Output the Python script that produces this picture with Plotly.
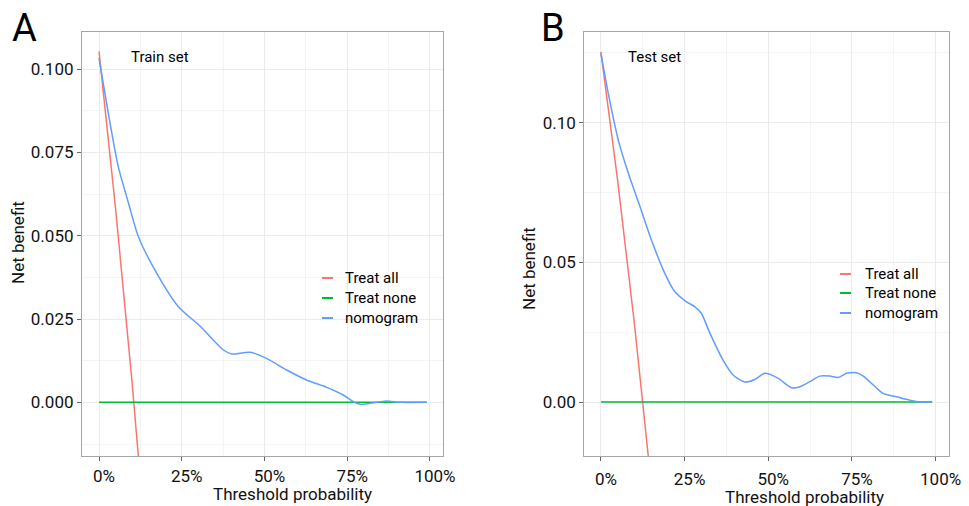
import plotly.graph_objects as go

# ---------------- data ----------------
# Train set (panel A)
train_thr = [0.0, 0.028, 0.058, 0.089, 0.119, 0.169, 0.240, 0.305, 0.345, 0.376, 0.401,
             0.456, 0.506, 0.567, 0.627, 0.688, 0.738, 0.768, 0.789, 0.819, 0.869, 0.909, 0.99]
train_nomogram = [0.1033, 0.0868, 0.0708, 0.0598, 0.0497, 0.0397, 0.0287, 0.0229, 0.0187, 0.0157, 0.0145,
                  0.0150, 0.0132, 0.0097, 0.0067, 0.0045, 0.0022, 0.0002, -0.0006, -0.0003, 0.0004, 0.0, 0.0]
train_all_thr = [0.0, 0.05, 0.10, 0.15]
train_all = [0.1053, 0.0582, 0.0059, -0.0526]
train_none_thr = [0.0, 0.99]
train_none = [0.0, 0.0]

# Test set (panel B)
test_thr = [0.0, 0.022, 0.052, 0.082, 0.117, 0.151, 0.191, 0.221, 0.256, 0.281, 0.300, 0.326,
            0.365, 0.395, 0.430, 0.460, 0.490, 0.530, 0.570, 0.595, 0.624, 0.654, 0.684, 0.709,
            0.734, 0.764, 0.784, 0.814, 0.843, 0.883, 0.923, 0.953, 0.988]
test_nomogram = [0.1248, 0.1105, 0.0938, 0.0819, 0.0699, 0.0580, 0.0461, 0.0395, 0.0359, 0.0341, 0.0318, 0.0246,
                 0.0150, 0.0097, 0.0072, 0.0081, 0.0103, 0.0085, 0.0051, 0.0055, 0.0073, 0.0093, 0.0093, 0.0088,
                 0.0103, 0.0105, 0.0093, 0.0061, 0.0031, 0.0019, 0.0007, 0.0, 0.0]
test_all_thr = [0.0, 0.05, 0.10, 0.15]
test_all = [0.1254, 0.0794, 0.0282, -0.0290]
test_none_thr = [0.0, 0.99]
test_none = [0.0, 0.0]

x_ticks = [0, 0.25, 0.5, 0.75, 1.0]
legend_names = ["Treat all", "Treat none", "nomogram"]
colors = ["#F8766D", "#00BA38", "#619CFF"]

W, H = 969, 506
def px(x): return x / W
def py(y): return 1 - y / H

fig = go.Figure()

panels = [
    ("x", "y", train_all_thr, train_all, train_none_thr, train_none, train_thr, train_nomogram),
    ("x2", "y2", test_all_thr, test_all, test_none_thr, test_none, test_thr, test_nomogram),
]
for xa, ya, at, av, nt, nv, mt, mv in panels:
    fig.add_trace(go.Scatter(x=at, y=av, mode="lines", line=dict(color=colors[0], width=1.5),
                             xaxis=xa, yaxis=ya, showlegend=False, name=legend_names[0]))
    fig.add_trace(go.Scatter(x=nt, y=nv, mode="lines", line=dict(color=colors[1], width=1.5),
                             xaxis=xa, yaxis=ya, showlegend=False, name=legend_names[1]))
    fig.add_trace(go.Scatter(x=mt, y=mv, mode="lines", line=dict(color=colors[2], width=1.5, shape="spline", smoothing=0.7),
                             xaxis=xa, yaxis=ya, showlegend=False, name=legend_names[2]))

tick_font = dict(family="Roboto", size=17, color="#111111")
grid_major = "#ebebeb"
grid_minor = "#f4f4f4"
border = "#a6a6a6"

def xaxis_cfg(domain, rng, anchor, standoff):
    return dict(domain=domain, range=rng, tickvals=x_ticks, tickformat=".0%", anchor=anchor,
                showgrid=True, gridcolor=grid_major, gridwidth=1, automargin=False,
                minor=dict(dtick=0.125, tick0=0, showgrid=True, gridcolor=grid_minor, gridwidth=1),
                zeroline=False, showline=True, linecolor=border, linewidth=1.2, mirror=True,
                ticks="outside", ticklen=4, tickcolor="#666", tickfont=tick_font,
                ticklabelshift=5, ticklabelstandoff=standoff, fixedrange=True)

def yaxis_cfg(domain, rng, dtick, fmt, anchor):
    return dict(domain=domain, range=rng, dtick=dtick, tick0=0, tickformat=fmt, anchor=anchor,
                showgrid=True, gridcolor=grid_major, gridwidth=1, automargin=False,
                minor=dict(dtick=dtick / 2, tick0=0, showgrid=True, gridcolor=grid_minor, gridwidth=1),
                zeroline=False, showline=True, linecolor=border, linewidth=1.2, mirror=True,
                ticks="outside", ticklen=4, tickcolor="#666", tickfont=tick_font, fixedrange=True)

ydom = [py(456), py(31.7)]
fig.update_layout(
    width=W, height=H, autosize=False,
    margin=dict(l=0, r=0, t=0, b=0, autoexpand=False),
    paper_bgcolor="white", plot_bgcolor="white",
    xaxis=xaxis_cfg([px(82), px(443)], [-0.0514, 1.0393], "y", 0),
    yaxis=yaxis_cfg(ydom, [-0.0161, 0.1112], 0.025, ".3f", "x"),
    xaxis2=xaxis_cfg([px(584.3), px(949.3)], [-0.0496, 1.0410], "y2", 3),
    yaxis2=yaxis_cfg(ydom, [-0.0193, 0.1326], 0.05, ".2f", "x2"),
    showlegend=False,
)

ann = []
shapes = []
label_font = dict(family="Roboto", size=17, color="#111111")
# panel letters
ann.append(dict(text="A", x=px(10), y=py(28), xref="paper", yref="paper", xanchor="left", yanchor="middle",
                showarrow=False, font=dict(family="Roboto", size=38, color="black")))
ann.append(dict(text="B", x=px(539), y=py(28), xref="paper", yref="paper", xanchor="left", yanchor="middle",
                showarrow=False, font=dict(family="Roboto", size=38, color="black")))
# set titles
ann.append(dict(text="Train set", x=px(129), y=py(57), xref="paper", yref="paper", xanchor="left", yanchor="middle",
                showarrow=False, font=dict(family="Roboto", size=15, color="black")))
ann.append(dict(text="Test set", x=px(626), y=py(57), xref="paper", yref="paper", xanchor="left", yanchor="middle",
                showarrow=False, font=dict(family="Roboto", size=15, color="black")))
# axis titles
ann.append(dict(text="Threshold probability", x=px(292.5), y=py(494), xref="paper", yref="paper",
                xanchor="center", yanchor="middle", showarrow=False, font=label_font))
ann.append(dict(text="Threshold probability", x=px(804), y=py(497), xref="paper", yref="paper",
                xanchor="center", yanchor="middle", showarrow=False, font=label_font))
ann.append(dict(text="Net benefit", x=px(18), y=py(243), xref="paper", yref="paper", textangle=-90,
                xanchor="center", yanchor="middle", showarrow=False, font=label_font))
ann.append(dict(text="Net benefit", x=px(529), y=py(269), xref="paper", yref="paper", textangle=-90,
                xanchor="center", yanchor="middle", showarrow=False, font=label_font))

# legends (drawn as keys + labels)
legend_pos = [(322, 343, [278, 298, 318]), (840, 863, [274, 293, 313])]
for sx, tx, ys in legend_pos:
    for name, col, yy in zip(legend_names, colors, ys):
        shapes.append(dict(type="line", xref="paper", yref="paper", x0=px(sx), x1=px(sx + 11),
                           y0=py(yy), y1=py(yy), line=dict(color=col, width=2)))
        ann.append(dict(text=name, x=px(tx), y=py(yy), xref="paper", yref="paper", xanchor="left",
                        yanchor="middle", showarrow=False, font=dict(family="Roboto", size=15, color="black")))

fig.update_layout(annotations=ann, shapes=shapes)
fig.write_html("out.html", config={"displayModeBar": False},
               post_script="document.body.style.margin='0px';document.body.style.padding='0px';")
